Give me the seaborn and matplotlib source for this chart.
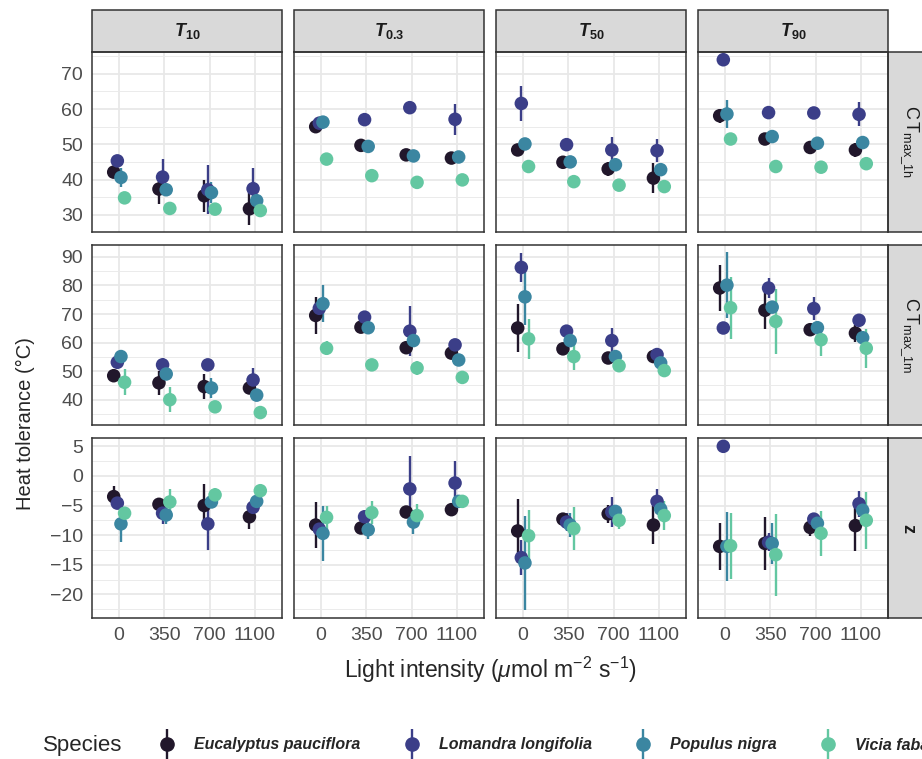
import numpy as np
import pandas as pd
import matplotlib
matplotlib.use('Agg')
import matplotlib.pyplot as plt
from matplotlib.lines import Line2D
from matplotlib.patches import Rectangle
from matplotlib.legend_handler import HandlerTuple
from matplotlib.ticker import MultipleLocator
import seaborn as sns

# facets
params = ['T10', 'T0.3', 'T50', 'T90']
param_labels = [r'$\boldsymbol{T}_{\mathbf{10}}$', r'$\boldsymbol{T}_{\mathbf{0.3}}$',
                r'$\boldsymbol{T}_{\mathbf{50}}$', r'$\boldsymbol{T}_{\mathbf{90}}$']
metrics = ['CTmax_1h', 'CTmax_1m', 'z']
metric_labels = [r'$\mathrm{C\,T}_{\mathrm{max\_1h}}$', r'$\mathrm{C\,T}_{\mathrm{max\_1m}}$', r'$\mathbf{z}$']
light = ['0', '350', '700', '1100']
species = ['Eucalyptus pauciflora', 'Lomandra longifolia', 'Populus nigra', 'Vicia faba']
colors = ['#21172b', '#3b3e88', '#3b86a1', '#63c7a1']

# values: [param][species][light]
ct1h_mean = [
    [[42.1, 37.3, 35.4, 31.7], [45.3, 40.7, 37.1, 37.4], [40.6, 37.1, 36.3, 34.0], [34.8, 31.8, 31.6, 31.2]],
    [[55.0, 49.7, 47.0, 46.1], [56.0, 57.0, 60.4, 57.1], [56.3, 49.4, 46.7, 46.4], [45.8, 41.1, 39.2, 39.9]],
    [[48.4, 44.9, 43.0, 40.4], [61.6, 49.9, 48.4, 48.2], [50.1, 45.0, 44.2, 42.8], [43.7, 39.4, 38.4, 38.0]],
    [[58.1, 51.5, 49.1, 48.4], [74.0, 59.0, 58.9, 58.5], [58.6, 52.2, 50.3, 50.5], [51.5, 43.7, 43.5, 44.5]],
]
ct1h_err = [
    [[1.0, 4.2, 4.5, 4.5], [1.2, 5.1, 6.9, 6.0], [2.6, 1.5, 3.0, 1.5], [1.5, 1.0, 1.0, 1.0]],
    [[1.0, 1.0, 1.0, 1.0], [1.0, 1.5, 1.5, 4.4], [1.0, 1.0, 1.0, 1.0], [1.0, 1.0, 1.0, 1.0]],
    [[1.5, 1.5, 2.0, 4.3], [5.0, 1.8, 3.8, 3.3], [1.2, 1.2, 1.2, 1.2], [1.0, 1.0, 1.0, 1.0]],
    [[2.0, 1.5, 1.5, 2.0], [1.0, 1.5, 1.0, 3.4], [4.0, 1.2, 1.2, 1.2], [1.0, 1.0, 1.0, 1.0]],
]
ct1m_mean = [
    [[48.4, 45.9, 44.6, 44.1], [53.1, 52.2, 52.2, 46.9], [55.1, 49.0, 44.1, 41.6], [46.1, 40.0, 37.5, 35.5]],
    [[69.5, 65.4, 58.2, 56.3], [72.0, 68.9, 64.0, 59.2], [73.6, 65.2, 60.7, 53.9], [58.0, 52.2, 51.1, 47.8]],
    [[65.1, 57.8, 54.6, 55.1], [86.3, 64.0, 60.7, 55.8], [76.0, 60.7, 55.1, 52.9], [61.3, 55.1, 51.9, 50.2]],
    [[79.1, 71.3, 64.5, 63.3], [65.1, 79.1, 71.9, 67.8], [80.1, 72.4, 65.2, 61.7], [72.2, 67.4, 61.0, 58.0]],
]
ct1m_err = [
    [[1.5, 4.1, 4.4, 2.0], [1.5, 2.5, 2.0, 4.1], [1.0, 1.5, 3.6, 1.5], [4.5, 4.4, 1.0, 1.0]],
    [[6.4, 1.0, 1.5, 1.0], [1.5, 1.5, 8.7, 1.0], [6.4, 1.0, 1.0, 1.0], [2.5, 1.5, 2.5, 1.0]],
    [[8.5, 1.5, 1.5, 1.0], [5.0, 1.5, 4.5, 1.0], [10.0, 1.0, 1.0, 1.0], [7.0, 4.7, 1.0, 1.0]],
    [[8.1, 6.6, 1.5, 3.0], [1.0, 3.6, 3.9, 1.0], [11.5, 1.5, 1.5, 1.0], [10.9, 11.4, 5.8, 6.9]],
]
z_mean = [
    [[-3.5, -4.8, -5.0, -6.9], [-4.6, -6.3, -8.1, -5.3], [-8.1, -6.6, -4.4, -4.3], [-6.3, -4.4, -3.2, -2.5]],
    [[-8.3, -8.8, -6.1, -5.7], [-9.0, -6.9, -2.2, -1.2], [-9.7, -9.1, -7.8, -4.3], [-7.0, -6.2, -6.7, -4.3]],
    [[-9.3, -7.3, -6.4, -8.3], [-13.8, -7.8, -6.1, -4.3], [-14.7, -8.3, -6.0, -5.6], [-10.1, -8.9, -7.5, -6.7]],
    [[-11.9, -11.4, -8.7, -8.4], [5.0, -11.2, -7.3, -4.7], [-11.9, -11.4, -8.0, -5.8], [-11.8, -13.3, -9.7, -7.5]],
]
z_err = [
    [[1.8, 1.0, 3.6, 2.1], [1.0, 1.8, 4.4, 1.0], [3.0, 1.5, 1.0, 1.0], [1.0, 2.2, 1.2, 1.0]],
    [[3.9, 1.0, 1.0, 1.0], [1.0, 1.0, 5.5, 3.8], [4.6, 1.5, 2.0, 1.0], [2.0, 2.0, 2.0, 1.0]],
    [[5.4, 1.0, 1.5, 3.2], [3.0, 1.5, 2.5, 2.1], [8.0, 2.0, 1.0, 1.0], [4.4, 3.6, 1.5, 2.5]],
    [[4.0, 4.5, 1.5, 4.3], [0.5, 1.5, 1.0, 2.2], [5.8, 3.5, 1.0, 1.0], [5.6, 6.9, 3.8, 4.8]],
]

dodge = [-0.12, -0.04, 0.04, 0.12]

rows = []
for metric, tab_m, tab_e in zip(metrics, [ct1h_mean, ct1m_mean, z_mean], [ct1h_err, ct1m_err, z_err]):
    for pi, par in enumerate(params):
        for si, sp in enumerate(species):
            for li, lt in enumerate(light):
                rows.append(dict(metric=metric, param=par, species=sp, light=lt,
                                 xpos=li + dodge[si], mean=tab_m[pi][si][li], err=tab_e[pi][si][li]))
df = pd.DataFrame(rows)

sns.set_theme(style='white')
plt.rcParams['font.family'] = ['Liberation Sans', 'DejaVu Sans']
plt.rcParams['mathtext.fontset'] = 'custom'
plt.rcParams['mathtext.rm'] = 'Liberation Sans'
plt.rcParams['mathtext.it'] = 'Liberation Sans:italic'
plt.rcParams['mathtext.bf'] = 'Liberation Sans:bold'
plt.rcParams['mathtext.bfit'] = 'Liberation Sans:italic:bold'


def draw_ranges(data, **kws):
    ax = plt.gca()
    for si, sp in enumerate(species):
        d = data[data.species == sp]
        ax.vlines(d.xpos, d['mean'] - d['err'], d['mean'] + d['err'], color=colors[si], lw=1.7, zorder=2)


g = sns.FacetGrid(df, row='metric', col='param', row_order=metrics, col_order=params,
                  sharex=True, sharey='row', height=2, aspect=1, despine=False)
g.map_dataframe(draw_ranges)
g.map_dataframe(sns.scatterplot, x='xpos', y='mean', hue='species', hue_order=species,
                palette=colors, s=95, linewidth=0, zorder=3, legend=False)
g.set_titles('')
g.set_axis_labels('', '')

fig = g.figure
fig.set_size_inches(9.22, 7.59)
fig.subplots_adjust(left=92 / 922, right=888 / 922, top=1 - 52 / 759, bottom=1 - 618 / 759,
                    wspace=0.063, hspace=0.075)

ylims = [(25.2, 76.2), (31.2, 94.1), (-24.0, 6.35)]
ymajor = [10, 10, 5]
yticks = [[30, 40, 50, 60, 70], [40, 50, 60, 70, 80, 90], [-20, -15, -10, -5, 0, 5]]

for r in range(3):
    for c in range(4):
        ax = g.axes[r, c]
        ax.set_xlim(-0.6, 3.6)
        ax.set_ylim(*ylims[r])
        ax.set_xticks(range(4))
        ax.set_xticklabels(light)
        ax.set_yticks(yticks[r])
        ax.yaxis.set_minor_locator(MultipleLocator(ymajor[r] / 2))
        ax.set_axisbelow(True)
        ax.grid(True, which='major', color='#e8e8e8', lw=1.3)
        ax.yaxis.grid(True, which='minor', color='#ebebeb', lw=0.7)
        for s in ax.spines.values():
            s.set_color('#333333')
            s.set_linewidth(1.1)
            s.set_visible(True)
        ax.tick_params(which='both', length=0, labelsize=14, labelcolor='#4d4d4d', pad=3)
        if c == 0:
            ax.tick_params(axis='y', which='major', length=3.5, color='#333333', width=0.9)
        if r == 2:
            ax.tick_params(axis='x', which='major', length=3.5, color='#333333', width=0.9)
        if r == 0:
            ax.add_patch(Rectangle((0, 1), 1, 0.235, transform=ax.transAxes, facecolor='#d9d9d9',
                                   edgecolor='#333333', lw=1.1, clip_on=False))
            ax.text(0.5, 1.117, param_labels[c], transform=ax.transAxes, ha='center', va='center',
                    fontsize=13, color='#1a1a1a')
        if c == 3:
            ax.add_patch(Rectangle((1, 0), 0.225, 1, transform=ax.transAxes, facecolor='#d9d9d9',
                                   edgecolor='#333333', lw=1.1, clip_on=False))
            ax.text(1.11, 0.5, metric_labels[r], transform=ax.transAxes, ha='center', va='center',
                    rotation=-90, fontsize=13, color='#1a1a1a')

fig.text(25 / 922, 335 / 759, 'Heat tolerance (°C)', rotation=90, ha='center', va='center', fontsize=14.5)
fig.text(490 / 922, 1 - 670 / 759, r'Light intensity ($\mu$mol m$^{-2}$ s$^{-1}$)', ha='center', va='center',
         fontsize=16.5)

handles = []
for col in colors:
    bar = Line2D([], [], color=col, marker='|', markersize=21, mew=1.7, linestyle='None')
    dot = Line2D([], [], color=col, marker='o', markersize=9.5, linestyle='None')
    handles.append((bar, dot))
fig.text(43 / 922, 1 - 745 / 759, 'Species', ha='left', va='center', fontsize=16)
fig.legend(handles, species, handler_map={tuple: HandlerTuple(ndivide=1)}, loc='center left',
           bbox_to_anchor=(140 / 922, 1 - 745 / 759), ncol=4, frameon=False, handlelength=1.6,
           handletextpad=0.9, columnspacing=2.4, prop={'style': 'italic', 'weight': 'bold', 'size': 11.5})

fig.savefig('out.png', dpi=100)
